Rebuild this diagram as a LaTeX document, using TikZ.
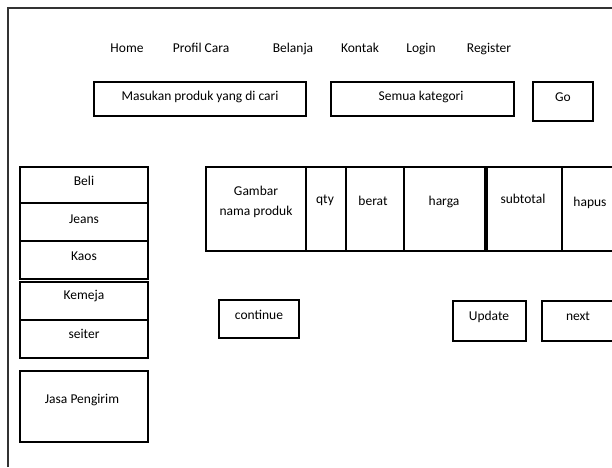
\documentclass[tikz,border=0pt]{standalone}
\usepackage{fontspec}
\setmainfont{Carlito}

\begin{document}
\begin{tikzpicture}[x=1pt, y=-1pt,
		box/.style={line width=2.4pt},
		lbl/.style={font=\fontsize{13.5}{15}\selectfont, inner sep=0pt, text height=0.7em, text depth=0.2em},
		lbltwo/.style={font=\fontsize{13.5}{20}\selectfont, inner sep=0pt, align=center}]
		%%%%% START %%%%%
		
		\useasboundingbox (0,0) rectangle (612,467);
		\clip (0,0) rectangle (612,467);
		
		\draw[line width=1.3pt, color=black!80] (8,467) -- (8,8) -- (612,8);
		
		\node[lbl] (home) at (127,50) {Home};
		\node[lbl] (profil) at (201,50) {Profil Cara};
		\node[lbl] (belanja) at (293,50) {Belanja};
		\node[lbl] (kontak) at (360,50) {Kontak};
		\node[lbl] (login) at (421,50) {Login};
		\node[lbl] (register) at (489,50) {Register};
		
		\draw[box] (94,82) rectangle (306,116);
		\node[lbl] (cari) at (200,98) {Masukan produk yang di cari};
		\draw[box] (331,82) rectangle (514,116);
		\node[lbl] (kategori) at (421,98) {Semua kategori};
		\draw[box] (533,82) rectangle (593,121);
		\node[lbl] (go) at (563,99) {Go};
		
		\draw[box] (20,167) rectangle (148,203);
		\node[lbl] (beli) at (84,183) {Beli};
		\draw[box] (20,203) rectangle (148,241);
		\node[lbl] (jeans) at (84,221) {Jeans};
		\draw[box] (20,241) rectangle (148,279);
		\node[lbl] (kaos) at (84,258) {Kaos};
		\draw[box] (20,282) rectangle (148,320);
		\node[lbl] (kemeja) at (84,297) {Kemeja};
		\draw[box] (20,320) rectangle (148,358);
		\node[lbl] (seiter) at (84,336) {seiter};
		
		\draw[box] (20,371) rectangle (148,442);
		\node[lbl] (jasa) at (82,401) {Jasa Pengirim};
		
		\draw[box] (206,167) rectangle (625,251);
		\draw[box] (306,167) -- (306,251);
		\draw[box] (346,167) -- (346,251);
		\draw[box] (404,167) -- (404,251);
		\draw[line width=3.2pt] (486,167) -- (486,251);
		\draw[box] (562,167) -- (562,251);
		\node[lbltwo] (gambar) at (256,202) {Gambar\\nama produk};
		\node[lbl] (qty) at (325,201) {qty};
		\node[lbl] (berat) at (373,203) {berat};
		\node[lbl] (harga) at (444,203) {harga};
		\node[lbl] (subtotal) at (523,201) {subtotal};
		\node[lbl] (hapus) at (590,204) {hapus};
		
		\draw[box] (219,300) rectangle (299,338);
		\node[lbl] (continue) at (259,317) {continue};
		\draw[box] (453,301) rectangle (526,341);
		\node[lbl] (update) at (489,318) {Update};
		\draw[box] (542,301) rectangle (625,341);
		\node[lbl] (next) at (578,318) {next};
		
		%%%%% END %%%%%
\end{tikzpicture}
\end{document}
